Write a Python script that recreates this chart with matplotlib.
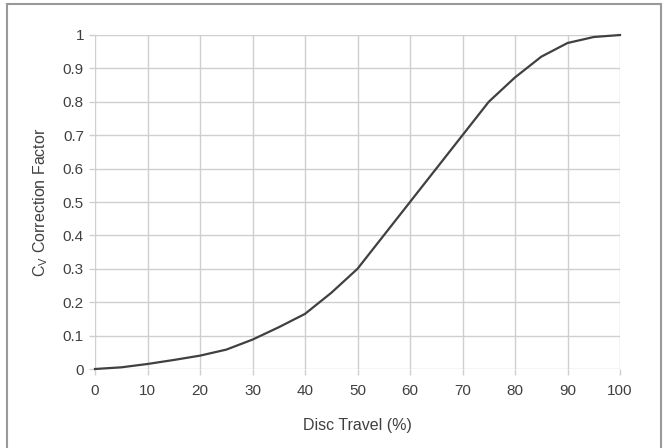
import matplotlib
matplotlib.use("Agg")
import matplotlib.pyplot as plt
from matplotlib.patches import Rectangle

plt.rcParams['font.family'] = ['Liberation Sans', 'DejaVu Sans']
plt.rcParams['mathtext.fontset'] = 'custom'
plt.rcParams['mathtext.rm'] = 'Liberation Sans'

# disc travel (%) vs Cv correction factor
travel = [0, 5, 10, 15, 20, 25, 30, 35, 40, 45, 50, 55, 60, 65, 70, 75, 80, 85, 90, 95, 100]
cv_factor = [0, 0.005, 0.015, 0.027, 0.04, 0.058, 0.088, 0.125, 0.165, 0.228, 0.3,
             0.4, 0.5, 0.6, 0.7, 0.8, 0.873, 0.935, 0.976, 0.994, 1.0]
xticks = list(range(0, 101, 10))
yticks = [0, 0.1, 0.2, 0.3, 0.4, 0.5, 0.6, 0.7, 0.8, 0.9, 1]
ytick_labels = ['0', '0.1', '0.2', '0.3', '0.4', '0.5', '0.6', '0.7', '0.8', '0.9', '1']

grid_col = '#cfcfcf'
text_col = '#404040'

fig = plt.figure(figsize=(6.63, 4.48), dpi=100)
ax = fig.add_axes([95/663, 1-369/448, 525/663, 334/448])

ax.plot(travel, cv_factor, color='#404040', lw=1.6, zorder=3, clip_on=False)

ax.set_xlim(0, 100)
ax.set_ylim(0, 1)
ax.set_xticks(xticks)
ax.set_yticks(yticks)
ax.set_yticklabels(ytick_labels)
ax.grid(True, color=grid_col, lw=1.0)
ax.set_axisbelow(True)
for s in ax.spines.values():
    s.set_visible(False)
ax.tick_params(colors=grid_col, labelcolor=text_col, labelsize=11, length=4, width=1.0)
ax.tick_params(axis='x', pad=7)
ax.tick_params(axis='y', pad=4)

ax.set_xlabel('Disc Travel (%)', color=text_col, fontsize=11.5, labelpad=14)
ax.set_ylabel(r'C$_\mathrm{V}$ Correction Factor', color=text_col, fontsize=11.5, labelpad=9)

# outer frame around the chart
fig.patches.append(Rectangle((7/663, -0.05), 654/663, 1.05 - 4/448, transform=fig.transFigure,
                             fill=False, edgecolor='#999999', lw=1.5))

fig.savefig('out.png', dpi=100)
